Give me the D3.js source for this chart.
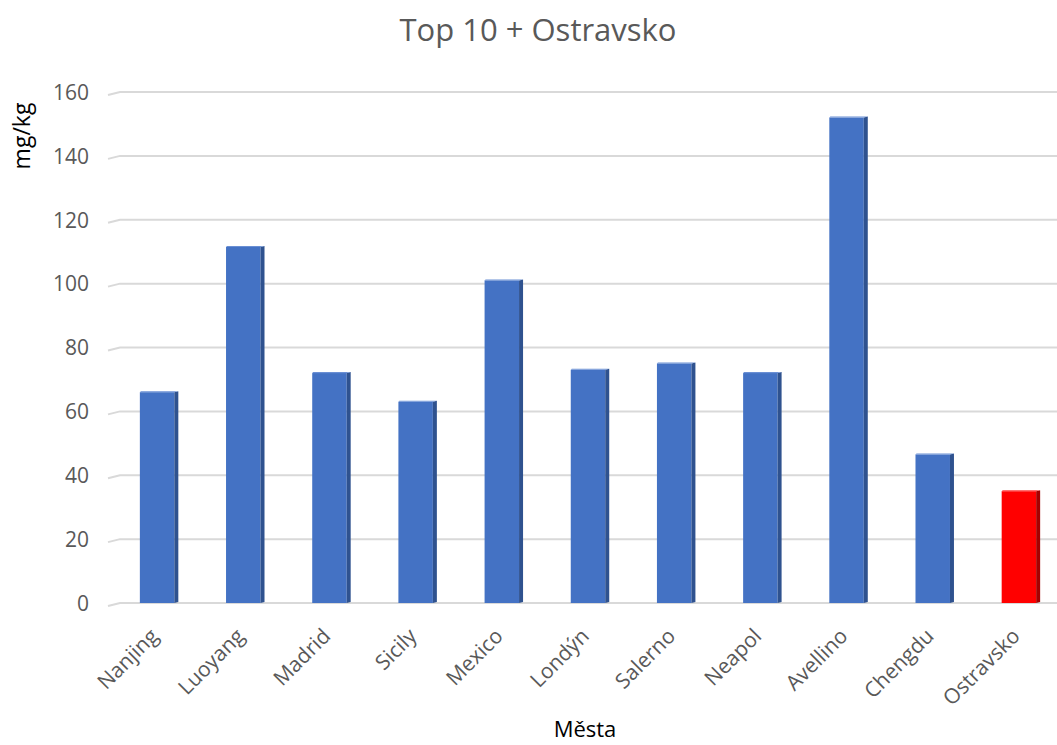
<!DOCTYPE html>
<html>
<head>
<meta charset="utf-8">
<script src="https://cdn.jsdelivr.net/npm/d3@7/dist/d3.min.js"></script>
<style>
  html, body { margin: 0; padding: 0; background: #fff; }
  svg { display: block; font-family: "Open Sans", "Noto Sans", sans-serif; }
</style>
</head>
<body>
<svg id="chart" width="1057" height="745"></svg>
<script>
// Cities and measured concentrations (mg/kg)
const cities = ["Nanjing", "Luoyang", "Madrid", "Sicily", "Mexico", "Londýn", "Salerno", "Neapol", "Avellino", "Chengdu", "Ostravsko"];
const values = [66, 111.5, 72, 63, 101, 73, 75, 72, 152, 46.5, 35];
const highlighted = ["Ostravsko"];
const yTicks = [0, 20, 40, 60, 80, 100, 120, 140, 160];

const svg = d3.select("#chart");
const plot = { left: 114, right: 1062, top: 92, bottom: 603 };

const x = d3.scaleBand().domain(cities).range([plot.left, plot.right]).paddingInner(0.6).paddingOuter(0.3);
const y = d3.scaleLinear().domain([0, 160]).range([plot.bottom, plot.top]);

// Gridlines, with a short slanted lead-in like a 3D floor edge
const grid = svg.append("g");
yTicks.forEach(t => {
  const yy = y(t);
  grid.append("path")
    .attr("d", `M108,${yy + 3} L120,${yy} L1057,${yy}`)
    .attr("fill", "none").attr("stroke", "#d9d9d9").attr("stroke-width", 2);
});

// Y axis tick labels
const yAxis = d3.axisLeft(y).tickValues(yTicks).tickSize(0).tickPadding(0);
svg.append("g").attr("transform", "translate(89,0)").call(yAxis)
  .attr("font-family", null).attr("font-size", null)
  .call(g => g.select(".domain").remove())
  .selectAll("text").attr("fill", "#595959").style("font-size", "21px")
  .attr("dy", "0.35em");

// Bars: front face, a dark right side and a thin top
const side = 4;
const bars = svg.append("g").selectAll("g").data(cities).join("g");
bars.each(function (c, i) {
  const g = d3.select(this);
  const red = highlighted.includes(c);
  const front = red ? "#ff0000" : "#4472c4";
  const dark = red ? "#a50000" : "#2f528f";
  const top = red ? "#ff4040" : "#6a8fd4";
  const x0 = x(c), w = x.bandwidth(), y0 = y(values[i]), y1 = y(0);
  g.append("rect").attr("x", x0).attr("y", y0).attr("width", w).attr("height", y1 - y0).attr("fill", front);
  g.append("path").attr("d", `M${x0 + w},${y0} L${x0 + w + side},${y0 - 1} L${x0 + w + side},${y1 - 1} L${x0 + w},${y1} Z`).attr("fill", dark);
  g.append("path").attr("d", `M${x0},${y0} L${x0 + 1},${y0 - 1} L${x0 + w + side},${y0 - 1} L${x0 + w},${y0} Z`).attr("fill", top);
});

// Category labels, rotated
const xAxis = d3.axisBottom(x).tickSize(0).tickPadding(0);
svg.append("g").attr("transform", `translate(0,${plot.bottom + 12})`).call(xAxis)
  .attr("font-family", null).attr("font-size", null)
  .call(g => g.select(".domain").remove())
  .selectAll("text")
  .attr("fill", "#595959").style("font-size", "21px")
  .attr("text-anchor", "end")
  .attr("transform", "translate(-8,12) rotate(-45)")
  .attr("dx", "0").attr("dy", "0.7em");

// Title and axis titles
svg.append("text").attr("x", 538).attr("y", 41).attr("text-anchor", "middle")
  .attr("fill", "#595959").style("font-size", "31px").text("Top 10 + Ostravsko");
svg.append("text").attr("transform", "translate(30,136) rotate(-90)").attr("text-anchor", "middle")
  .attr("fill", "#000").style("font-size", "23px").text("mg/kg");
svg.append("text").attr("x", 585).attr("y", 737).attr("text-anchor", "middle")
  .attr("fill", "#000").style("font-size", "22px").text("Města");
</script>
</body>
</html>
